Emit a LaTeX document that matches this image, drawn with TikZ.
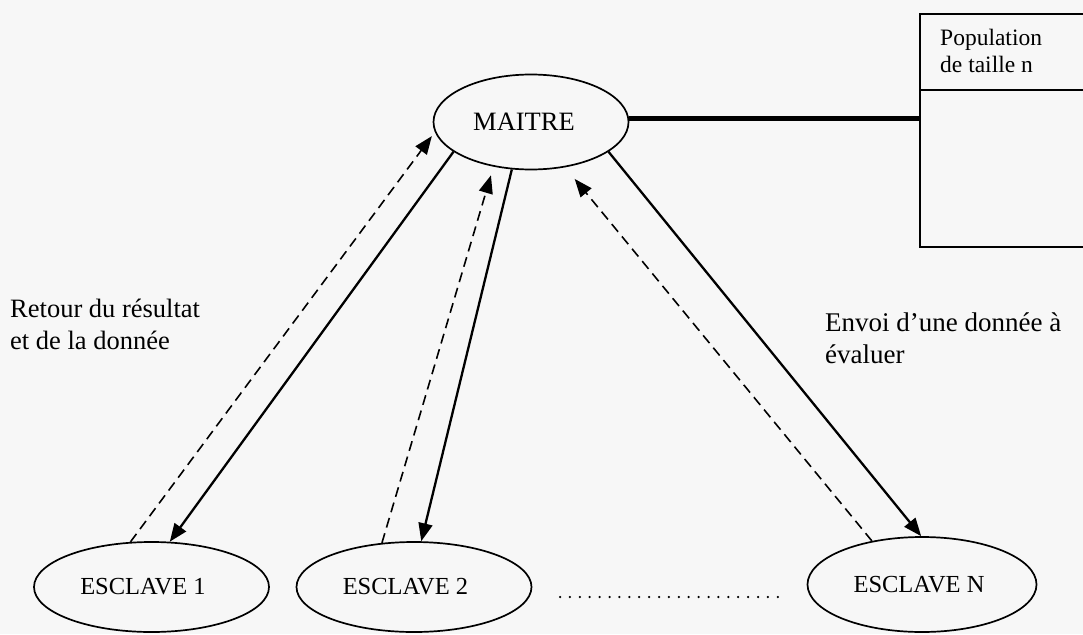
\documentclass[tikz,border=0pt]{standalone}
\usepackage{fontspec}
\setmainfont{Liberation Serif}
\usetikzlibrary{arrows.meta,shapes.geometric}

\begin{document}
\begin{tikzpicture}[x=1pt,y=-1pt,
  every node/.style={inner sep=0pt},
  process/.style={ellipse,draw,line width=1.7pt,font=\fontsize{24.5}{28}\selectfont},
  link/.style={line width=2.3pt,-{Triangle[length=18pt,width=14pt]}},
  reply/.style={line width=1.6pt,dash pattern=on 10pt off 6pt,-{Triangle[length=18pt,width=14pt]}},
  popbox/.style={rectangle,draw,line width=1.8pt},
  note/.style={anchor=base west,align=left}]

  % canvas
  \useasboundingbox (0,0) rectangle (1083,634);
  \fill[black!3] (0,0) rectangle (1083,634);
  \clip (0,0) rectangle (1083,634);

  % master and slaves
  \node[process,minimum width=195pt,minimum height=95pt,font=\fontsize{26.5}{30}\selectfont]
    (maitre) at (531,122) {MAITRE\hspace*{14pt}};
  \node[process,minimum width=235pt,minimum height=90pt] (e1) at (151.5,587) {ESCLAVE 1\hspace*{17pt}};
  \node[process,minimum width=235pt,minimum height=90pt] (e2) at (414,587) {ESCLAVE 2\hspace*{17pt}};
  \node[process,minimum width=229pt,minimum height=95pt] (eN) at (922,584.5) {ESCLAVE N\hspace*{6pt}};

  % population store (base anchor sits on the last line)
  \node[popbox,minimum width=200pt,minimum height=233pt,anchor=north west] (pop) at (919,13) {};
  \coordinate (div) at (0,90);
  \draw[line width=1.8pt] (pop.west |- div) -- (pop.east |- div);
  \node[note,font=\fontsize{23.5}{27}\selectfont] (poptitle) at (940,72) {Population\\de taille n};

  % link master -- population
  \draw[line width=4.5pt] (maitre.2) -- (pop.west |- maitre.2);

  % exchanges
  \draw[reply,shorten >=5pt] (e1.115.5) -- (maitre.186.5);
  \draw[link] (maitre.201.1) -- (e1.68.5);
  \draw[reply,shorten >=9pt] (e2.126.9) -- (maitre.230.5);
  \draw[link] (maitre.248.7) -- (e2.81.3);
  \draw[reply,shorten >=15pt] (eN.139.4) -- (maitre.307.8);
  \draw[link] (maitre.339.5) -- (eN.91);

  % further slaves
  \coordinate (dotsL) at (560,597);
  \coordinate (dotsR) at (778,597);
  \draw[line width=2.5pt,line cap=round,dash pattern=on 0pt off 9.9pt] (dotsL) -- (dotsR);

  % labels
  \node[note,font=\fontsize{26.5}{32}\selectfont] (retour) at (10,349) {Retour du résultat\\et de la donnée};
  \node[note,font=\fontsize{27}{32}\selectfont] (envoi) at (825,363) {Envoi d’une donnée à\\évaluer};
\end{tikzpicture}
\end{document}
